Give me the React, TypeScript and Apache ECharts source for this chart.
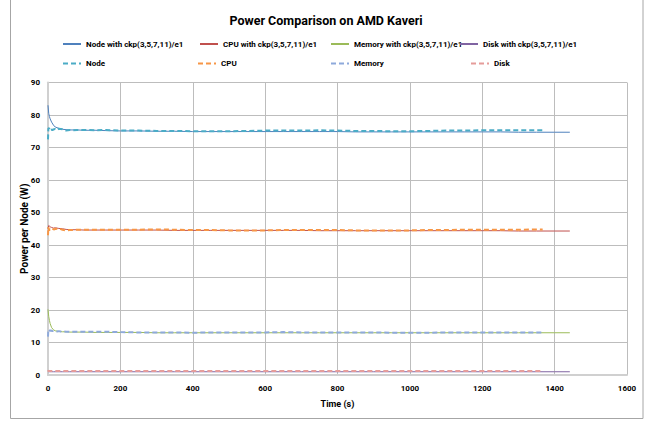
import React, { useEffect, useRef } from "react";
import * as echarts from "echarts";

const titleText = "Power Comparison on AMD Kaveri";
const xAxisName = "Time (s)";
const yAxisName = "Power per Node (W)";

const seriesNames = [
  "Node with ckp(3,5,7,11)/e1",
  "CPU with ckp(3,5,7,11)/e1",
  "Memory with ckp(3,5,7,11)/e1",
  "Disk with ckp(3,5,7,11)/e1",
  "Node",
  "CPU",
  "Memory",
  "Disk",
];

const timeSolid = [0, 2, 4, 6, 10, 15, 20, 30, 40, 50, 60, 80, 100, 130, 160, 200, 250, 300, 350, 400, 450, 500, 550, 600, 650, 700, 750, 800, 850, 900, 950, 1000, 1050, 1100, 1150, 1200, 1250, 1300, 1350, 1400, 1442];
const nodeSolid = [83.0, 80.5, 79.5, 78.8, 77.8, 76.9, 76.3, 75.9, 75.6, 75.5, 75.4, 75.4, 75.3, 75.3, 75.2, 75.1, 75.1, 75.0, 75.0, 74.9, 74.9, 74.9, 74.9, 74.9, 74.9, 74.9, 74.9, 74.9, 74.8, 74.8, 74.8, 74.8, 74.8, 74.8, 74.8, 74.8, 74.8, 74.7, 74.7, 74.7, 74.7];
const cpuSolid = [45.0, 46.0, 45.8, 45.6, 45.4, 45.2, 45.3, 45.1, 45.0, 44.8, 44.7, 44.7, 44.6, 44.6, 44.6, 44.6, 44.6, 44.6, 44.5, 44.5, 44.5, 44.5, 44.5, 44.5, 44.5, 44.5, 44.4, 44.4, 44.4, 44.4, 44.4, 44.4, 44.4, 44.4, 44.4, 44.4, 44.4, 44.3, 44.3, 44.3, 44.3];
const memSolid = [20.2, 18.0, 16.8, 15.8, 14.6, 13.9, 13.6, 13.4, 13.3, 13.3, 13.2, 13.2, 13.2, 13.1, 13.1, 13.1, 13.1, 13.0, 13.0, 13.0, 13.0, 13.0, 13.0, 13.0, 13.0, 13.0, 13.0, 13.0, 13.0, 13.0, 13.0, 13.0, 13.0, 13.0, 13.0, 13.0, 13.0, 13.0, 13.0, 13.0, 13.0];
const diskSolid = [1.1, 1.0, 1.0, 1.0, 1.0, 1.0, 1.0, 1.0, 1.0, 1.0, 1.0, 1.0, 1.0, 1.0, 1.0, 1.0, 1.0, 1.0, 1.0, 1.0, 1.0, 1.0, 1.0, 1.0, 1.0, 1.0, 1.0, 1.0, 1.0, 1.0, 1.0, 1.0, 1.0, 1.0, 1.0, 1.0, 1.0, 1.0, 1.0, 1.0, 1.0];

const timeDashed = [0, 1, 3, 5, 8, 12, 16, 20, 25, 30, 35, 40, 50, 60, 70, 80, 100, 130, 160, 200, 250, 300, 350, 400, 450, 500, 550, 600, 650, 700, 750, 800, 850, 900, 950, 1000, 1050, 1100, 1150, 1200, 1250, 1300, 1367];
const nodeDashed = [72.5, 75.8, 76.0, 75.4, 75.8, 75.3, 75.6, 75.7, 75.4, 75.8, 75.7, 75.6, 75.2, 75.4, 75.3, 75.4, 75.4, 75.3, 75.4, 75.2, 75.2, 75.1, 75.1, 75.0, 75.0, 75.0, 75.1, 75.2, 75.2, 75.2, 75.3, 75.2, 75.1, 75.1, 75.0, 75.0, 75.1, 75.2, 75.2, 75.3, 75.3, 75.3, 75.3];
const cpuDashed = [43.0, 45.5, 44.5, 44.8, 44.6, 45.0, 44.8, 44.9, 45.0, 45.1, 44.9, 44.7, 44.5, 44.6, 44.6, 44.7, 44.7, 44.7, 44.7, 44.7, 44.7, 44.8, 44.7, 44.6, 44.6, 44.5, 44.5, 44.5, 44.6, 44.6, 44.6, 44.6, 44.5, 44.5, 44.5, 44.5, 44.6, 44.6, 44.7, 44.7, 44.7, 44.7, 44.8];
const memDashed = [11.8, 14.0, 13.8, 13.6, 13.7, 13.5, 13.6, 13.5, 13.4, 13.5, 13.4, 13.4, 13.3, 13.3, 13.3, 13.3, 13.3, 13.3, 13.3, 13.2, 13.1, 13.1, 13.1, 13.0, 13.1, 13.1, 13.1, 13.1, 13.2, 13.1, 13.1, 13.1, 13.1, 13.1, 13.0, 13.0, 13.0, 13.1, 13.1, 13.1, 13.1, 13.1, 13.1];
const diskDashed = [1.5, 1.2, 1.2, 1.2, 1.2, 1.2, 1.2, 1.2, 1.2, 1.2, 1.2, 1.2, 1.2, 1.2, 1.2, 1.2, 1.2, 1.2, 1.2, 1.2, 1.2, 1.2, 1.2, 1.2, 1.2, 1.2, 1.2, 1.2, 1.2, 1.2, 1.2, 1.2, 1.2, 1.2, 1.2, 1.2, 1.2, 1.2, 1.2, 1.2, 1.2, 1.2, 1.2];

const colors = ["#4F81BD", "#C0504D", "#9BBB59", "#8064A2", "#4BACC6", "#F79646", "#8EA9DB", "#E59C9A"];

const FONT = "Roboto, 'Liberation Sans', sans-serif";

const legendPos = [
  [62, 40], [199, 40], [330, 40], [459, 40],
  [62, 59.5], [197, 59.5], [330, 59.5], [470, 59.5],
];

function zip(xs: number[], ys: number[]) {
  return xs.map((x, i) => [x, ys[i]]);
}

export default function App() {
  const ref = useRef<HTMLDivElement>(null);
  useEffect(() => {
    if (!ref.current) return;
    const chart = echarts.init(ref.current, undefined, { renderer: "svg" });
    const solidData = [nodeSolid, cpuSolid, memSolid, diskSolid];
    const dashedData = [nodeDashed, cpuDashed, memDashed, diskDashed];
    const series: any[] = [];
    solidData.forEach((d, i) => {
      series.push({
        name: seriesNames[i],
        type: "line",
        data: zip(timeSolid, d),
        symbol: "none",
        lineStyle: { color: colors[i], width: 1 },
        itemStyle: { color: colors[i] },
        z: 3,
      });
    });
    dashedData.forEach((d, i) => {
      series.push({
        name: seriesNames[i + 4],
        type: "line",
        data: zip(timeDashed, d),
        symbol: "none",
        lineStyle: { color: colors[i + 4], width: 2, type: [5, 3] },
        itemStyle: { color: colors[i + 4] },
        z: 4,
      });
    });
    const legends = seriesNames.map((n, i) => ({
      data: [n],
      left: legendPos[i][0],
      top: legendPos[i][1],
      padding: 0,
      itemWidth: 18,
      itemHeight: 10,
      selectedMode: false,
      itemStyle: { opacity: 0 },
      textStyle: { fontFamily: FONT, fontSize: 8, color: "#000", fontWeight: "bold" },
    }));
    chart.setOption({
      animation: false,
      backgroundColor: "#fff",
      title: {
        text: titleText,
        left: "center",
        top: 9,
        textStyle: { fontFamily: FONT, fontSize: 12.5, fontWeight: "bold", color: "#000" },
      },
      legend: legends,
      grid: { left: 48, right: 25, top: 82.5, bottom: 46, containLabel: false },
      xAxis: {
        type: "value",
        min: 0,
        max: 1600,
        interval: 200,
        name: xAxisName,
        nameLocation: "middle",
        nameGap: 24,
        nameMoveOverlap: false,
        nameTextStyle: { fontFamily: FONT, fontSize: 9, fontWeight: "bold", color: "#000" },
        axisLine: { show: true, lineStyle: { color: "#D0D0D0", width: 2 } },
        axisTick: { show: false },
        axisLabel: {
          fontFamily: FONT, fontSize: 8, fontWeight: "bold", color: "#000", margin: 9,
          formatter: (v: number) => String(v),
        },
        splitLine: { show: true, lineStyle: { color: "#BDBDBD", width: 1 } },
      },
      yAxis: {
        type: "value",
        min: 0,
        max: 90,
        interval: 10,
        name: yAxisName,
        nameLocation: "middle",
        nameGap: 19,
        nameMoveOverlap: false,
        nameTextStyle: { fontFamily: FONT, fontSize: 10, fontWeight: "bold", color: "#000" },
        axisLine: { show: true, lineStyle: { color: "#D0D0D0", width: 2 } },
        axisTick: { show: false },
        axisLabel: {
          fontFamily: FONT, fontSize: 8, fontWeight: "bold", color: "#000", margin: 8,
          formatter: (v: number) => String(v),
        },
        splitLine: { show: true, lineStyle: { color: "#BDBDBD", width: 1 } },
      },
      graphic: [
        {
          type: "rect",
          shape: { x: 10.5, y: -2, width: 632.5, height: 420.5 },
          style: { fill: "none", stroke: "#A6A6A6", lineWidth: 1 },
          silent: true,
        },
      ],
      series,
    });
    return () => chart.dispose();
  }, []);
  return (
    <div
      ref={ref}
      style={{ position: "absolute", left: 0, top: 0, width: 652, height: 421 }}
    />
  );
}
